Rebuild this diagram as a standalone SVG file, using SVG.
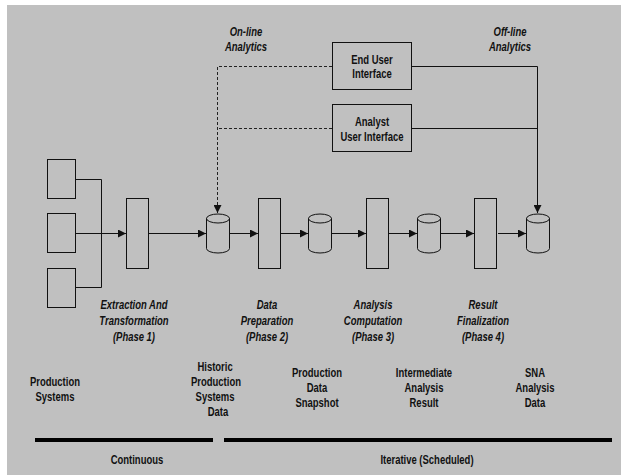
<svg xmlns="http://www.w3.org/2000/svg" width="621" height="475" viewBox="0 0 621 475">
<style>
.box{fill:none;stroke:#111;stroke-width:1}
.ln{fill:none;stroke:#111;stroke-width:1}
.dash{fill:none;stroke:#222;stroke-width:1;stroke-dasharray:3 2}
.bar{stroke:#000;stroke-width:4}
text{font-family:"Liberation Sans",Arial,sans-serif;font-weight:bold;font-size:12px;fill:#111;text-anchor:middle}
.it{font-style:italic}
</style>
<defs>
<marker id="ah" viewBox="0 0 8 8" refX="8" refY="4" markerWidth="8" markerHeight="8" markerUnits="userSpaceOnUse" orient="auto">
<path d="M0,0 L8,4 L0,8 Z" fill="#111"/>
</marker>
<g id="cyl">
<path d="M0,4.5 V34.5 A11.5,4.5 0 0 0 23,34.5 V4.5" fill="none" stroke="#111"/>
<ellipse cx="11.5" cy="4.5" rx="11.5" ry="4.5" fill="none" stroke="#111"/>
</g>
</defs>
<rect x="7" y="5" width="614" height="470" fill="#c0c0c0"/>

<g id="connectors">
<path class="ln" d="M76,179.5 H101.5 V287.5 H76"/>
<path class="ln" d="M76,233.5 H126" marker-end="url(#ah)"/>
<path class="ln" d="M149,233.5 H206" marker-end="url(#ah)"/>
<path class="ln" d="M229,233.5 H258" marker-end="url(#ah)"/>
<path class="ln" d="M280,233.5 H308" marker-end="url(#ah)"/>
<path class="ln" d="M332,233.5 H366" marker-end="url(#ah)"/>
<path class="ln" d="M389,233.5 H417" marker-end="url(#ah)"/>
<path class="ln" d="M440,233.5 H474" marker-end="url(#ah)"/>
<path class="ln" d="M498,233.5 H526" marker-end="url(#ah)"/>
<path class="dash" d="M332,66.5 H217.5 V213" marker-end="url(#ah)"/>
<path class="dash" d="M332,128.5 H217.5"/>
<path class="ln" d="M412,66.5 H537.5 V213" marker-end="url(#ah)"/>
<path class="ln" d="M412,128.5 H537.5"/>
</g>

<g id="prod-sys-1"><rect class="box" x="47.5" y="159.5" width="28" height="39"/></g>
<g id="prod-sys-2"><rect class="box" x="47.5" y="213.5" width="28" height="39"/></g>
<g id="prod-sys-3"><rect class="box" x="47.5" y="268.5" width="28" height="39"/></g>

<g id="phase1"><rect class="box" x="126.5" y="198.5" width="22" height="70"/></g>
<g id="phase2"><rect class="box" x="258.5" y="198.5" width="22" height="70"/></g>
<g id="phase3"><rect class="box" x="366.5" y="198.5" width="22" height="70"/></g>
<g id="phase4"><rect class="box" x="474.5" y="198.5" width="22" height="70"/></g>

<g id="db-historic"><use href="#cyl" x="206.5" y="214"/></g>
<g id="db-snapshot"><use href="#cyl" x="308.5" y="214"/></g>
<g id="db-intermediate"><use href="#cyl" x="417.5" y="214"/></g>
<g id="db-sna"><use href="#cyl" x="526.5" y="214"/></g>

<g id="end-user-ui">
<rect class="box" x="332.5" y="42.5" width="79" height="47"/>
<g transform="scale(0.79 1)">
<text x="470.9" y="64">End User</text>
<text x="470.9" y="78">Interface</text>
</g>
</g>
<g id="analyst-ui">
<rect class="box" x="332.5" y="104.5" width="79" height="47"/>
<g transform="scale(0.79 1)">
<text x="470.9" y="126">Analyst</text>
<text x="470.9" y="141">User Interface</text>
</g>
</g>

<g id="labels" transform="scale(0.79 1)">
<text class="it" x="311.4" y="36">On-line</text>
<text class="it" x="311.4" y="51">Analytics</text>
<text class="it" x="645.6" y="36">Off-line</text>
<text class="it" x="645.6" y="51">Analytics</text>

<text class="it" x="169.6" y="309">Extraction And</text>
<text class="it" x="169.6" y="325">Transformation</text>
<text class="it" x="169.6" y="341">(Phase 1)</text>
<text class="it" x="338" y="309">Data</text>
<text class="it" x="338" y="325">Preparation</text>
<text class="it" x="338" y="341">(Phase 2)</text>
<text class="it" x="472.2" y="309">Analysis</text>
<text class="it" x="472.2" y="325">Computation</text>
<text class="it" x="472.2" y="341">(Phase 3)</text>
<text class="it" x="611.4" y="309">Result</text>
<text class="it" x="611.4" y="325">Finalization</text>
<text class="it" x="611.4" y="341">(Phase 4)</text>

<text x="69.6" y="386">Production</text>
<text x="69.6" y="401">Systems</text>
<text x="272.2" y="371">Historic</text>
<text x="273.4" y="386">Production</text>
<text x="272.2" y="401">Systems</text>
<text x="275.9" y="416">Data</text>
<text x="401.3" y="377">Production</text>
<text x="401.3" y="392">Data</text>
<text x="401.3" y="407">Snapshot</text>
<text x="536.7" y="377">Intermediate</text>
<text x="536.7" y="392">Analysis</text>
<text x="536.7" y="407">Result</text>
<text x="677.2" y="377">SNA</text>
<text x="677.2" y="392">Analysis</text>
<text x="677.2" y="407">Data</text>

<text x="173.4" y="464">Continuous</text>
<text x="540.5" y="464">Iterative (Scheduled)</text>
</g>
<g id="timeline">
<line class="bar" x1="35" y1="440" x2="213" y2="440"/>
<line class="bar" x1="224" y1="440" x2="612" y2="440"/>
</g>
</svg>
